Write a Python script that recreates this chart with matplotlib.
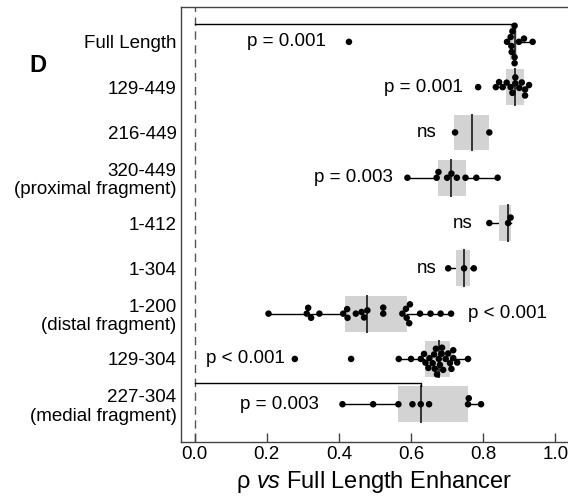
import numpy as np
import matplotlib
matplotlib.use("Agg")
import matplotlib.pyplot as plt
from matplotlib.patches import Rectangle

plt.rcParams['font.family'] = ['Liberation Sans', 'DejaVu Sans']
plt.rcParams['mathtext.fontset'] = 'custom'
plt.rcParams['mathtext.rm'] = 'Liberation Sans'
plt.rcParams['mathtext.it'] = 'Liberation Sans:italic'

# constructs, top to bottom
labels = ['Full Length', '129-449', '216-449', '320-449\n(proximal fragment)', '1-412',
          '1-304', '1-200\n(distal fragment)', '129-304', '227-304\n(medial fragment)']

# correlation of each replicate with the full length enhancer
rho_full = [0.428, 0.866, 0.876, 0.878, 0.879, 0.881, 0.887, 0.887, 0.887, 0.899, 0.913, 0.937]
rho_129_449 = [0.786, 0.835, 0.844, 0.854, 0.865, 0.876, 0.881, 0.889, 0.889, 0.900, 0.907,
               0.916, 0.916, 0.927]
rho_216_449 = [0.722, 0.817]
rho_320_449 = [0.590, 0.671, 0.676, 0.700, 0.712, 0.727, 0.751, 0.781, 0.840]
rho_1_412 = [0.817, 0.869, 0.876]
rho_1_304 = [0.703, 0.747, 0.774]
rho_1_200 = [0.205, 0.311, 0.315, 0.323, 0.346, 0.412, 0.423, 0.424, 0.447, 0.463, 0.470, 0.479,
             0.523, 0.523, 0.576, 0.586, 0.588, 0.595, 0.597, 0.625, 0.654, 0.682, 0.711]
rho_129_304 = [0.278, 0.434, 0.566, 0.600, 0.627, 0.636, 0.640, 0.648, 0.651, 0.660, 0.664, 0.666,
               0.669, 0.672, 0.677, 0.680, 0.685, 0.686, 0.689, 0.696, 0.703, 0.708, 0.712, 0.717,
               0.717, 0.728, 0.758]
rho_227_304 = [0.410, 0.495, 0.565, 0.604, 0.627, 0.650, 0.758, 0.760, 0.794]
groups = [rho_full, rho_129_449, rho_216_449, rho_320_449, rho_1_412, rho_1_304, rho_1_200,
          rho_129_304, rho_227_304]

# box summaries
q1 = [0.875, 0.863, 0.719, 0.675, 0.844, 0.724, 0.417, 0.638, 0.565]
med = [0.888, 0.889, 0.768, 0.712, 0.869, 0.747, 0.478, 0.677, 0.627]
q3 = [0.893, 0.913, 0.815, 0.752, 0.876, 0.763, 0.590, 0.708, 0.757]
whisk_lo = [0.866, 0.835, 0.722, 0.590, 0.817, 0.703, 0.205, 0.566, 0.410]
whisk_hi = [0.937, 0.927, 0.817, 0.840, 0.876, 0.774, 0.711, 0.758, 0.794]

# p-value annotations: text, x, alignment
p_text = ['p = 0.001', 'p = 0.001', 'ns', 'p = 0.003', 'ns', 'ns', 'p < 0.001', 'p < 0.001', 'p = 0.003']
p_x = [0.145, 0.744, 0.672, 0.549, 0.771, 0.671, 0.758, 0.031, 0.126]
p_ha = ['left', 'right', 'right', 'right', 'right', 'right', 'left', 'left', 'left']


def swarm(xs, d):
    # simple beeswarm in pixel space
    placed = []
    offs = []
    for x in xs:
        cands = [0.0]
        for px, py in placed:
            dx = x - px
            if abs(dx) < d:
                dy = np.sqrt(d * d - dx * dx)
                cands += [py + dy, py - dy]
        cands = sorted(cands, key=lambda c: (abs(c), c))
        for c in cands:
            ok = True
            for px, py in placed:
                if (x - px) ** 2 + (c - py) ** 2 < d * d - 1e-6:
                    ok = False
                    break
            if ok:
                break
        placed.append((x, c))
        offs.append(c)
    return np.array(offs)


fig = plt.figure(figsize=(5.68, 4.97), dpi=100)
ax = fig.add_axes([0.318, 0.111, 0.682, 0.875])
xlim = (-0.0385, 1.035)
ax.set_xlim(xlim)
ax.set_ylim(8.83, -0.77)

px_per_x = 0.682 * 568 / (xlim[1] - xlim[0])
px_per_y = 0.875 * 497 / 9.6

ax.axvline(0, color='#555555', lw=1, ls=(0, (6, 4)), zorder=0)

box_h = 0.79
for i, vals in enumerate(groups):
    ax.plot([whisk_lo[i], whisk_hi[i]], [i, i], color='black', lw=1, zorder=1)
    ax.add_patch(Rectangle((q1[i], i - box_h / 2), q3[i] - q1[i], box_h,
                           facecolor='#d3d3d3', edgecolor='none', zorder=2))
    ax.plot([med[i], med[i]], [i - box_h / 2, i + box_h / 2], color='#333333', lw=1.4, zorder=3)
    v = np.array(vals)
    off = swarm(v * px_per_x, 6.0) / px_per_y
    ax.scatter(v, i + off, s=22, color='black', edgecolors='none', zorder=4)
    ax.text(p_x[i], i, p_text[i], ha=p_ha[i], va='center', fontsize=13.5)

# comparison brackets
ax.plot([0, med[0], med[0]], [-0.39, -0.39, -box_h / 2], color='black', lw=1, zorder=3)
ax.plot([0, med[8], med[8]], [8 - 0.46, 8 - 0.46, 8 - box_h / 2], color='black', lw=1, zorder=3)

ax.set_yticks(range(len(labels)))
ax.set_yticklabels(labels, fontsize=13.5, linespacing=1.1)
ax.tick_params(axis='y', length=0, pad=3)
ax.set_xticks([0, 0.2, 0.4, 0.6, 0.8, 1.0])
ax.set_xticklabels(['0.0', '0.2', '0.4', '0.6', '0.8', '1.0'], fontsize=13.5)
ax.tick_params(axis='x', direction='in', length=6.5, width=1, color='#444444', pad=3)
ax.spines['right'].set_visible(False)
for s in ['left', 'bottom', 'top']:
    ax.spines[s].set_color('#444444')
    ax.spines[s].set_linewidth(1)

ax.set_xlabel(r'ρ $\mathit{vs}$ Full Length Enhancer', fontsize=17, labelpad=4)
fig.text(38 / 568, 1 - 65 / 497, 'D', fontsize=17, fontweight='bold', ha='center', va='center')

fig.savefig('out.png', dpi=100)
